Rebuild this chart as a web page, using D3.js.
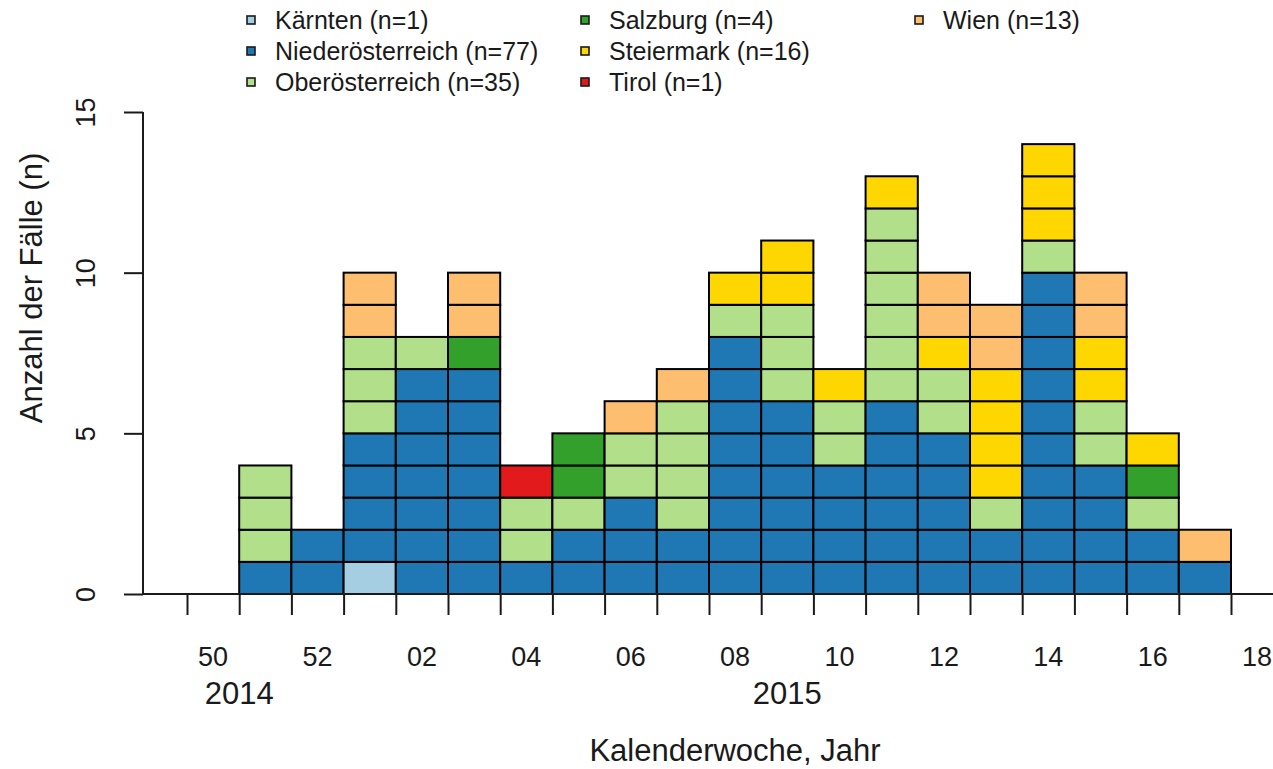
<!DOCTYPE html>
<html>
<head>
<meta charset="utf-8">
<script src="https://cdn.jsdelivr.net/npm/d3@7"></script>
<style>
  body { margin: 0; background: #fff; }
  svg { display: block; font-family: "Liberation Sans", Arial, sans-serif; }
  .axis text { fill: #1a1a1a; }
  .axis line { stroke: #1a1a1a; stroke-width: 2; }
  .legend-label { font-size: 25px; fill: #1a1a1a; }
</style>
</head>
<body>
<div id="chart"></div>
<script>
// ====== Epikurve nach Kalenderwoche ======

// Kalenderwochen (49 KW2014 .. 18 KW2015)
const weeks = ["50", "51", "52", "01", "02", "03", "04", "05", "06", "07", "08",
               "09", "10", "11", "12", "13", "14", "15", "16", "17", "18"];

// Fälle je Bundesland und Woche
const regions = ["Kärnten", "Niederösterreich", "Oberösterreich", "Salzburg",
                 "Steiermark", "Tirol", "Wien"];
const kaernten         = [0, 0, 0, 1, 0, 0, 0, 0, 0, 0, 0, 0, 0, 0, 0, 0, 0, 0, 0, 0, 0];
const niederoesterreich = [0, 1, 2, 4, 7, 7, 1, 2, 3, 2, 8, 6, 4, 6, 5, 2, 10, 4, 2, 1, 0];
const oberoesterreich  = [0, 3, 0, 3, 1, 0, 2, 1, 2, 4, 1, 3, 2, 6, 2, 1, 1, 2, 1, 0, 0];
const salzburg         = [0, 0, 0, 0, 0, 1, 0, 2, 0, 0, 0, 0, 0, 0, 0, 0, 0, 0, 1, 0, 0];
const steiermark       = [0, 0, 0, 0, 0, 0, 0, 0, 0, 0, 1, 2, 1, 1, 1, 4, 3, 2, 1, 0, 0];
const tirol            = [0, 0, 0, 0, 0, 0, 1, 0, 0, 0, 0, 0, 0, 0, 0, 0, 0, 0, 0, 0, 0];
const wien             = [0, 0, 0, 2, 0, 2, 0, 0, 1, 1, 0, 0, 0, 0, 2, 2, 0, 2, 0, 1, 0];

const yTicks = [0, 5, 10, 15];
const xLabelWeeks = ["50", "52", "02", "04", "06", "08", "10", "12", "14", "16", "18"];

// Jahresbeschriftung: erste und letzte Woche des Bereichs
const years = ["2014", "2015"];
const yearFrom = ["50", "52"];
const yearTo = ["51", "18"];

const counts = [kaernten, niederoesterreich, oberoesterreich, salzburg, steiermark, tirol, wien];
const colors = ["#a6cee3", "#1f78b4", "#b2df8a", "#33a02c", "#ffd700", "#e31a1c", "#fdbf6f"];

function buildEpicurve () {
    let width = 1273, height = 769;
    let left = 143, right = width, top = 112, bottom = 594;
    let bin = 52.2, x0 = 187;

    let svg = d3.select("#chart").append("svg")
        .attr("width", width)
        .attr("height", height);

    let x = d3.scaleBand()
        .domain(weeks)
        .range([x0, x0 + bin * weeks.length])
        .padding(0);

    let xEdge = d3.scaleLinear()
        .domain([0, weeks.length])
        .range([x0, x0 + bin * weeks.length]);

    let y = d3.scaleLinear()
        .domain([0, 15])
        .range([bottom, top]);

    let color = d3.scaleOrdinal().domain(regions).range(colors);

    // one box per case, stacked in region order
    let cells = [];
    weeks.forEach(function(w, i) {
        let level = 0;
        regions.forEach(function(r, j) {
            for (let k = 0; k < counts[j][i]; k++) {
                cells.push({week: w, region: r, y0: level, y1: level + 1});
                level++;
            }
        });
    });

    svg.append("g")
        .selectAll("rect")
        .data(cells)
        .enter().append("rect")
        .attr("x", function(d) { return x(d.week); })
        .attr("y", function(d) { return y(d.y1); })
        .attr("width", x.bandwidth())
        .attr("height", function(d) { return y(d.y0) - y(d.y1); })
        .style("fill", function(d) { return color(d.region); })
        .style("stroke", "#000")
        .style("stroke-width", 2);

    // baseline
    svg.append("line")
        .attr("x1", left).attr("x2", right)
        .attr("y1", y(0)).attr("y2", y(0))
        .style("stroke", "#1a1a1a")
        .style("stroke-width", 2);

    // y axis
    let yAxis = svg.append("g")
        .attr("class", "axis")
        .attr("transform", "translate(" + left + ",0)")
        .call(d3.axisLeft(y).tickValues(yTicks).tickSize(19));
    yAxis.select(".domain").attr("stroke", "#1a1a1a").attr("stroke-width", 2)
        .attr("d", "M0," + y(15) + "V" + y(0));
    yAxis.selectAll("text")
        .attr("transform", "rotate(-90)")
        .attr("x", 0)
        .attr("y", -48)
        .attr("dy", 0)
        .style("text-anchor", "middle")
        .style("font-size", "27px")
        .style("font-family", "Liberation Sans, Arial, sans-serif");

    // x ticks at week boundaries
    let xTicks = svg.append("g")
        .attr("class", "axis")
        .attr("transform", "translate(0," + y(0) + ")")
        .call(d3.axisBottom(xEdge).tickValues(d3.range(0, weeks.length)).tickFormat("").tickSize(21));
    xTicks.select(".domain").remove();

    // x labels at week centres
    let xLabels = svg.append("g")
        .attr("class", "axis")
        .attr("transform", "translate(0," + y(0) + ")")
        .call(d3.axisBottom(x).tickValues(xLabelWeeks).tickSize(0));
    xLabels.select(".domain").remove();
    xLabels.selectAll("text")
        .attr("y", 72)
        .attr("dy", 0)
        .style("font-size", "27px")
        .style("font-family", "Liberation Sans, Arial, sans-serif");

    // years
    svg.selectAll(".year")
        .data(years)
        .enter().append("text")
        .attr("class", "year")
        .attr("x", function(d, i) { return (x(yearFrom[i]) + x(yearTo[i]) + x.bandwidth()) / 2; })
        .attr("y", 704)
        .style("text-anchor", "middle")
        .style("font-size", "31px")
        .style("fill", "#1a1a1a")
        .text(function(d) { return d; });

    svg.append("text")
        .attr("x", 735)
        .attr("y", 761)
        .style("text-anchor", "middle")
        .style("font-size", "31px")
        .style("fill", "#1a1a1a")
        .text("Kalenderwoche, Jahr");

    svg.append("text")
        .attr("transform", "translate(42,288) rotate(-90)")
        .style("text-anchor", "middle")
        .style("font-size", "31px")
        .style("fill", "#1a1a1a")
        .text("Anzahl der Fälle (n)");

    // legend, three rows per column
    let legend = svg.selectAll(".legend")
        .data(regions)
        .enter().append("g")
        .attr("class", "legend")
        .attr("transform", function(d, i) {
            return "translate(" + (251 + Math.floor(i / 3) * 334) + "," + (20 + (i % 3) * 31) + ")";
        });

    legend.append("rect")
        .attr("x", -4)
        .attr("y", -4)
        .attr("width", 8)
        .attr("height", 8)
        .style("fill", function(d) { return color(d); })
        .style("stroke", "#1a1a1a")
        .style("stroke-width", 1.6);

    legend.append("text")
        .attr("class", "legend-label")
        .attr("x", 24)
        .attr("y", 9)
        .text(function(d, i) { return d + " (n=" + d3.sum(counts[i]) + ")"; });
}

buildEpicurve();
</script>
</body>
</html>
